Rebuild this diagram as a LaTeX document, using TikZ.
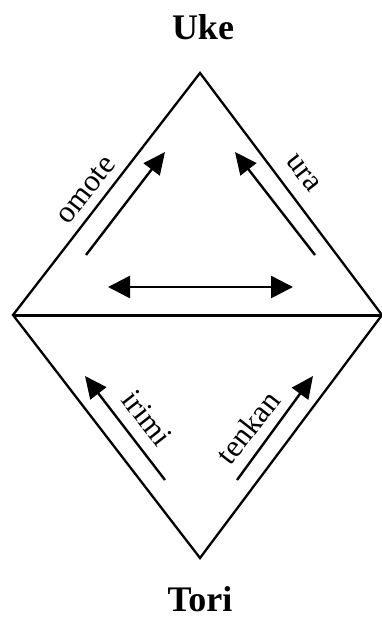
\documentclass[tikz,border=0pt]{standalone}
\usepackage{fontspec}
\setmainfont{Liberation Serif}
\usetikzlibrary{arrows.meta}
\tikzset{
    sideline/.style={line width=2.3pt, line join=miter},
    midline/.style={line width=3pt},
    movearrow/.style={-{Triangle[length=22pt, width=20pt]}, line width=2.4pt},
    bothways/.style={{Triangle[length=22pt, width=22pt]}-{Triangle[length=22pt, width=22pt]}, line width=2.6pt},
    rolelabel/.style={font=\fontsize{36}{40}\selectfont\bfseries, inner sep=1pt},
    movelabel/.style={font=\fontsize{31}{34}\selectfont, inner sep=1pt},
}
\begin{document}
\begin{tikzpicture}[x=1pt, y=-1pt]
    \useasboundingbox (0,0) rectangle (382,618);

    % Corners of the diamond
    \coordinate (top) at (200,73);
    \coordinate (left) at (13,315);
    \coordinate (right) at (382,315);
    \coordinate (bottom) at (200,558);

    % Diamond and middle line
    \draw[sideline] (left) -- (top) -- (right) -- (bottom) -- cycle;
    \draw[midline] (left) -- (right);

    % Roles
    \node[rolelabel] (uke) at (203,27) {Uke};
    \node[rolelabel] (tori) at (200,599) {Tori};

    % Arrow ends
    \coordinate (omoteA) at (86,255);
    \coordinate (omoteB) at (165,152);
    \coordinate (uraA) at (315,255);
    \coordinate (uraB) at (235,152);
    \coordinate (acrossA) at (108,287);
    \coordinate (acrossB) at (293,287);
    \coordinate (irimiA) at (165,480);
    \coordinate (irimiB) at (85,376);
    \coordinate (tenkanA) at (237,480);
    \coordinate (tenkanB) at (313,376);

    % Movements
    \draw[movearrow] (omoteA) -- (omoteB);
    \draw[movearrow] (uraA) -- (uraB);
    \draw[bothways] (acrossA) -- (acrossB);
    \draw[movearrow] (irimiA) -- (irimiB);
    \draw[movearrow] (tenkanA) -- (tenkanB);

    % Movement names
    \node[movelabel, rotate=52] (omote) at (86,190) {omote};
    \node[movelabel, rotate=-52] (ura) at (303,173) {ura};
    \node[movelabel, rotate=-52] (irimi) at (147,418) {irimi};
    \node[movelabel, rotate=52] (tenkan) at (248,427) {tenkan};
\end{tikzpicture}
\end{document}
